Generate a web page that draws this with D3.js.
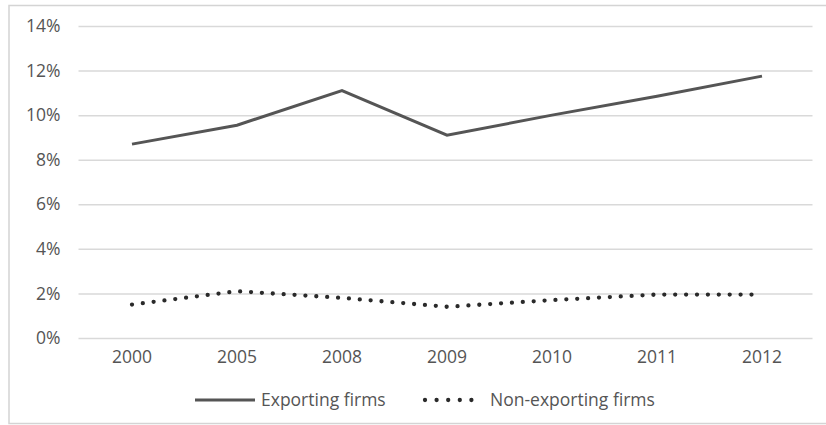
<!DOCTYPE html>
<html>
<head>
<meta charset="utf-8">
<script src="https://cdn.jsdelivr.net/npm/d3@7"></script>
<style>
  html, body { margin: 0; padding: 0; background: #fff; }
  svg { display: block; }
  text { font-family: "Open Sans", "Liberation Sans", sans-serif; fill: #555555; }
</style>
</head>
<body>
<svg id="chart" width="826" height="425"></svg>
<script>
// Years on the category axis
const years = ["2000", "2005", "2008", "2009", "2010", "2011", "2012"];
// Share of firms (%) per year
const exporting = [8.7, 9.55, 11.1, 9.1, 10.0, 10.85, 11.75];
const nonExporting = [1.5, 2.1, 1.8, 1.4, 1.7, 1.95, 1.95];
// Value axis ticks
const yTicks = [0, 2, 4, 6, 8, 10, 12, 14];
const seriesNames = ["Exporting firms", "Non-exporting firms"];

const svg = d3.select("#chart");
const W = 826, H = 425;
const fontSize = 17.5;

// Outer chart frame
svg.append("rect")
  .attr("x", 9).attr("y", 5.5)
  .attr("width", W + 10).attr("height", H - 7)
  .attr("fill", "none").attr("stroke", "#d4d4d4").attr("stroke-width", 1.5);

const plot = { left: 79.5, right: 814.5, top: 26, bottom: 338 };

const x = d3.scaleBand().domain(years).range([plot.left, plot.right]);
const y = d3.scaleLinear().domain([0, 14]).range([plot.bottom, plot.top]);

// Horizontal gridlines with percent labels
const yAxis = d3.axisLeft(y)
  .tickValues(yTicks)
  .tickSize(-(plot.right - plot.left - 1))
  .tickPadding(18)
  .tickFormat(d => d + "%");

const gy = svg.append("g")
  .attr("transform", `translate(${plot.left - 1},0)`)
  .call(yAxis);
gy.select(".domain").remove();
gy.selectAll(".tick line").attr("stroke", "#d9d9d9").attr("stroke-width", 1.5);
gy.selectAll(".tick text").attr("font-size", fontSize).attr("fill", "#555555");

// Category labels
const xAxis = d3.axisBottom(x).tickSize(0).tickPadding(13);
const gx = svg.append("g")
  .attr("transform", `translate(0,${plot.bottom})`)
  .call(xAxis);
gx.select(".domain").remove();
gx.selectAll(".tick text").attr("font-size", fontSize).attr("fill", "#555555");

const line = d3.line()
  .x((d, i) => x(years[i]) + x.bandwidth() / 2)
  .y(d => y(d));

svg.append("path")
  .datum(exporting)
  .attr("d", line)
  .attr("fill", "none")
  .attr("stroke", "#555555")
  .attr("stroke-width", 3);

svg.append("path")
  .datum(nonExporting)
  .attr("d", line)
  .attr("fill", "none")
  .attr("stroke", "#2a2a2a")
  .attr("stroke-width", 4.3)
  .attr("stroke-linecap", "round")
  .attr("stroke-dasharray", "0 10.9");

// Legend
const legend = svg.append("g").attr("transform", "translate(0,400)");
legend.append("line")
  .attr("x1", 195).attr("x2", 255).attr("y1", 0).attr("y2", 0)
  .attr("stroke", "#555555").attr("stroke-width", 3);
legend.append("text")
  .attr("x", 261).attr("y", 0).attr("dy", "0.35em")
  .attr("font-size", fontSize).text(seriesNames[0]);
legend.append("line")
  .attr("x1", 425).attr("x2", 483).attr("y1", 0).attr("y2", 0)
  .attr("stroke", "#2a2a2a").attr("stroke-width", 4.3)
  .attr("stroke-linecap", "round").attr("stroke-dasharray", "0 11.6");
legend.append("text")
  .attr("x", 490).attr("y", 0).attr("dy", "0.35em")
  .attr("font-size", fontSize).text(seriesNames[1]);
</script>
</body>
</html>
